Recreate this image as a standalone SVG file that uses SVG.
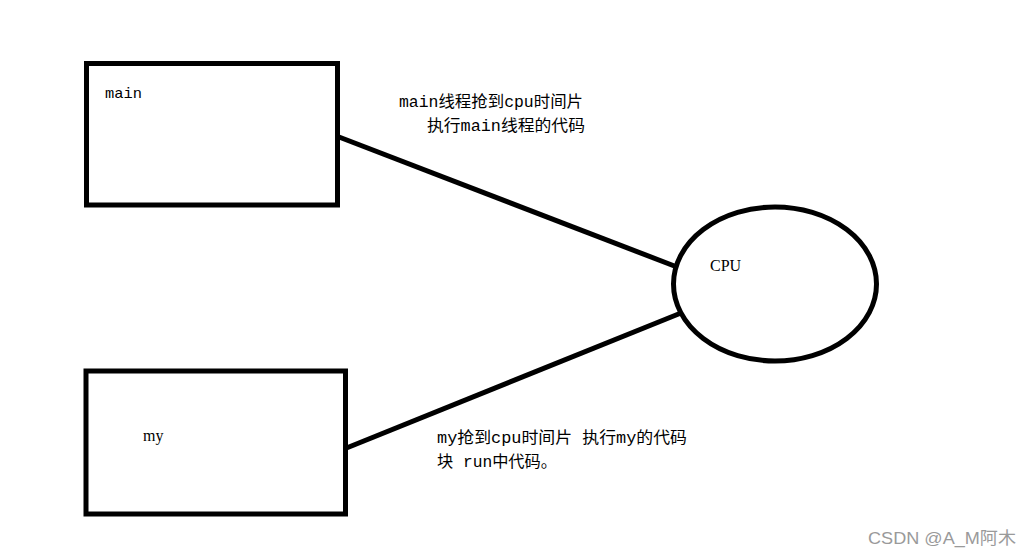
<svg xmlns="http://www.w3.org/2000/svg" width="1032" height="556" viewBox="0 0 1032 556">
<style>
.box{fill:none;stroke:#000;stroke-width:5}
.conn{stroke:#000;stroke-width:5;fill:none}
.mono{font-family:"Liberation Mono","Noto Sans CJK SC",monospace;font-size:15px;fill:#000}
.cjk{font-family:"Liberation Mono","Noto Sans CJK SC",monospace;font-size:16px;fill:#000}
.serif{font-family:"Liberation Serif","Noto Sans CJK SC",serif;font-size:16px;fill:#000}
.wm{font-family:"Liberation Sans","Noto Sans CJK SC",sans-serif;font-size:17px;fill:#9a9a9a}
</style>
<rect width="1032" height="556" fill="#fff"/>
<g id="connectors">
<line class="conn" x1="339" y1="137" x2="677" y2="267"/>
<line class="conn" x1="344" y1="449" x2="681" y2="313"/>
</g>
<g id="main">
<rect class="box" x="86.5" y="63.5" width="251" height="141.5"/>
<text class="mono" x="105" y="98" textLength="37" lengthAdjust="spacingAndGlyphs">main</text>
</g>
<g id="my">
<rect class="box" x="86" y="371" width="259.5" height="143"/>
<text class="serif" x="143" y="441">my</text>
</g>
<g id="cpu">
<ellipse class="box" cx="775" cy="284" rx="101.5" ry="77"/>
<text class="serif" x="710" y="271">CPU</text>
</g>
<g id="labels">
<text class="cjk" x="399" y="107" textLength="184" lengthAdjust="spacingAndGlyphs">main线程抢到cpu时间片</text>
<text class="cjk" x="427" y="131" textLength="158" lengthAdjust="spacingAndGlyphs">执行main线程的代码</text>
<text class="cjk" x="437" y="443" textLength="250" lengthAdjust="spacingAndGlyphs">my抢到cpu时间片 执行my的代码</text>
<text class="cjk" x="437" y="467" textLength="120" lengthAdjust="spacingAndGlyphs">块 run中代码。</text>
</g>
<text class="wm" x="868" y="544" textLength="148" lengthAdjust="spacingAndGlyphs">CSDN @A_M阿木</text>
</svg>
